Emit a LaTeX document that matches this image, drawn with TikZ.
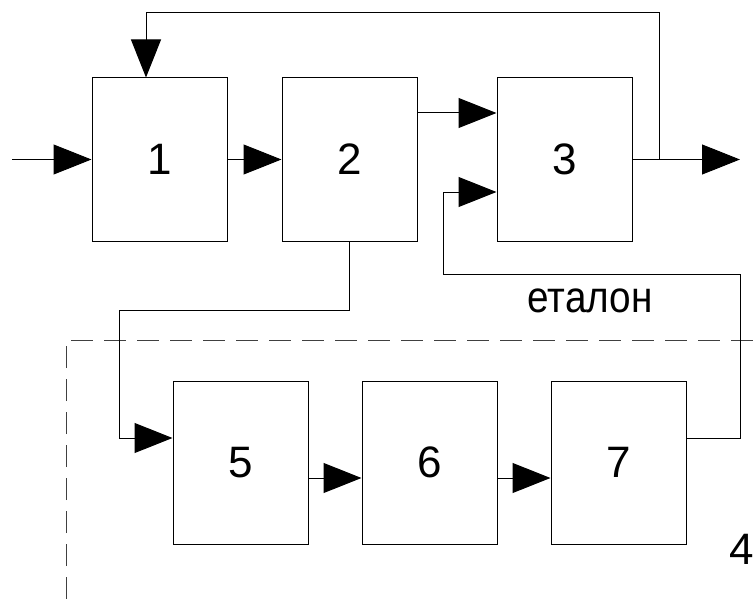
\documentclass[tikz,border=0pt]{standalone}
\usepackage{fontspec}
\setmainfont{Liberation Sans}
\usetikzlibrary{arrows.meta}
\begin{document}
\begin{tikzpicture}[x=1pt,y=-1pt,
  line width=1pt,
  block/.style={draw, minimum width=135pt, minimum height=163pt, inner sep=0pt,
    font=\fontsize{44}{48}\selectfont},
  flow/.style={-{Triangle[length=38pt,width=30pt]}},
  frame/.style={draw=black!75, dash pattern=on 22pt off 11pt},
  tag/.style={inner sep=0pt, font=\fontsize{44}{48}\selectfont}]
\useasboundingbox (0,0) rectangle (755,599);

% upper chain
\node[block] (b1) at (159.5,159.5) {1};
\node[block] (b2) at (349.5,159.5) {2};
\node[block] (b3) at (564.5,159.5) {3};

% lower chain (block 4)
\node[block] (b5) at (240.5,462.5) {5};
\node[block] (b6) at (429.5,462.5) {6};
\node[block] (b7) at (618.5,462.5) {7};

% dashed frame of block 4
\coordinate (f0) at (66,599);
\coordinate (f1) at (66,340);
\coordinate (f2) at (755,340);
\draw[frame] (f0) -- (f1) -- (f2);
\node[tag, anchor=east] (n4) at (754,549) {4};

% input and output
\coordinate (in) at (12,159.5);
\coordinate (out) at (740,159.5);
\draw[flow] (in) -- (b1.west);
\draw[flow] (b3.east) -- (out);

% forward connections
\draw[flow] (b1.east) -- (b2.west);
\draw[flow] ([yshift=46.5pt]b2.east) -- ([yshift=46.5pt]b3.west);
\draw[flow] ([yshift=-15.5pt]b5.east) -- ([yshift=-15.5pt]b6.west);
\draw[flow] ([yshift=-15.5pt]b6.east) -- ([yshift=-15.5pt]b7.west);

% feedback from output to block 1
\coordinate (j) at (659,159.5);
\draw[flow] (j) |- (146,13) -- ([xshift=-13.5pt]b1.north);

% block 2 into block 5
\draw[flow] (b2.south) |- (119,310) |- ([yshift=24.5pt]b5.west);

% reference signal from block 7 to block 3
\draw[flow] ([yshift=24.5pt]b7.east) -| (740,274) -| (443,192)
  -- ([yshift=-32.5pt]b3.west);
\node[tag] (et) at (590,301) {\scalebox{0.88}[1]{еталон}};
\end{tikzpicture}
\end{document}
